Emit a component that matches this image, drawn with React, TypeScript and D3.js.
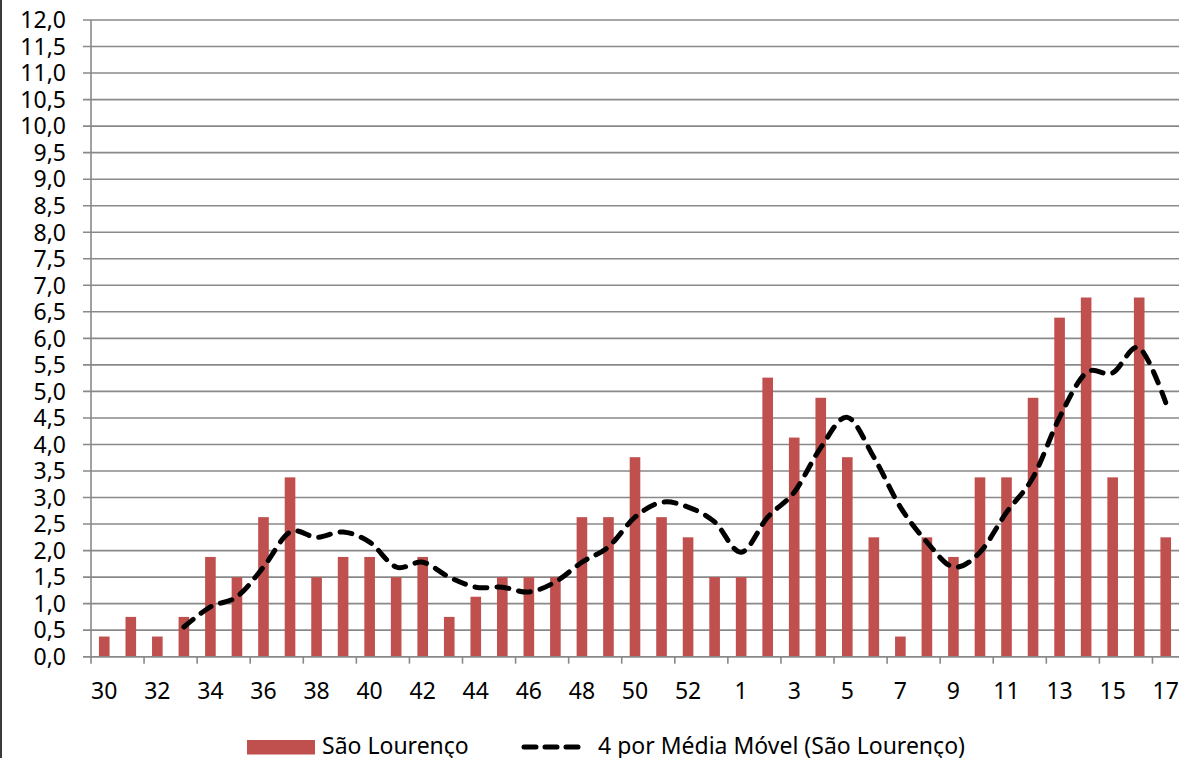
import React from "react";
import * as d3 from "d3";

const categories = [
  "30","31","32","33","34","35","36","37","38","39","40","41","42","43","44","45","46","47","48","49","50","51","52","53",
  "1","2","3","4","5","6","7","8","9","10","11","12","13","14","15","16","17",
];

const barValues = [
  0.38, 0.75, 0.38, 0.75, 1.88, 1.5, 2.63, 3.38, 1.5, 1.88, 1.88, 1.5, 1.88, 0.75, 1.13, 1.5, 1.5, 1.5, 2.63, 2.63, 3.76, 2.63, 2.25, 1.5,
  1.5, 5.26, 4.13, 4.88, 3.76, 2.25, 0.38, 2.25, 1.88, 3.38, 3.38, 4.88, 6.39, 6.77, 3.38, 6.77, 2.25,
];

// 4-period moving average (first three periods empty)
const maValues: (number | null)[] = [
  null, null, null, 0.56, 0.94, 1.13, 1.69, 2.35, 2.25, 2.35, 2.16, 1.69, 1.78, 1.5, 1.31, 1.31, 1.22, 1.41, 1.78, 2.07, 2.63, 2.91, 2.82, 2.54,
  1.97, 2.63, 3.1, 3.94, 4.51, 3.76, 2.82, 2.16, 1.69, 1.97, 2.72, 3.38, 4.51, 5.35, 5.35, 5.82, 4.79,
];

const yTicks = d3.range(0, 12.0001, 0.5);
const tickLabelCats = categories.filter((_, i) => i % 2 === 0);

const seriesBarName = "São Lourenço";
const seriesLineName = "4 por Média Móvel (São Lourenço)";

const W = 1181;
const H = 758;
const plotLeft = 91;
const plotRight = 1179;
const plotTop = 20;
const plotBottom = 656.7;
const FONT = "'Noto Sans', 'DejaVu Sans', sans-serif";
const BAR_COLOR = "#C0504D";
const GRID = "#898989";

export default function App() {
  const x = d3.scaleBand<string>().domain(categories).range([plotLeft, plotRight]).padding(0);
  const y = d3.scaleLinear().domain([0, 12]).range([plotBottom, plotTop]);
  const bw = x.bandwidth();
  const barW = bw / 2.5;

  const linePts = categories
    .map((c, i) => ({ c, v: maValues[i] }))
    .filter((d) => d.v !== null) as { c: string; v: number }[];
  const line = d3
    .line<{ c: string; v: number }>()
    .x((d) => (x(d.c) as number) + bw / 2)
    .y((d) => y(d.v))
    .curve(d3.curveCardinal.tension(0));

  const boundaryTicks = d3.range(0, categories.length, 2).map((i) => plotLeft + i * bw);

  return (
    <svg
      width={W}
      height={H}
      style={{ position: "absolute", left: 0, top: 0, background: "#fff" }}
      fontFamily={FONT}
    >
      <rect x={0} y={0} width={W} height={H} fill="#fff" />
      {/* chart frame left edge */}
      <line x1={1} x2={1} y1={0} y2={H} stroke="#3a3a3a" strokeWidth={2} />

      {/* gridlines */}
      {yTicks.map((t) => (
        <line
          key={t}
          x1={plotLeft - 8}
          x2={plotRight}
          y1={y(t)}
          y2={y(t)}
          stroke={GRID}
          strokeWidth={1.6}
        />
      ))}
      {/* y axis */}
      <line x1={plotLeft} x2={plotLeft} y1={plotTop} y2={plotBottom} stroke={GRID} strokeWidth={1.6} />
      {yTicks.map((t) => (
        <text
          key={"yl" + t}
          x={66}
          y={y(t)}
          dy="0.36em"
          textAnchor="end"
          fontSize={23}
          fill="#000"
        >
          {t.toFixed(1).replace(".", ",")}
        </text>
      ))}

      {/* bars */}
      {categories.map((c, i) => (
        <rect
          key={"b" + c + i}
          x={(x(c) as number) + (bw - barW) / 2}
          y={y(barValues[i])}
          width={barW}
          height={plotBottom - y(barValues[i])}
          fill={BAR_COLOR}
        />
      ))}

      {/* x axis */}
      <line x1={plotLeft - 8} x2={plotRight} y1={plotBottom} y2={plotBottom} stroke={GRID} strokeWidth={1.6} />
      {boundaryTicks.map((tx, i) => (
        <line key={"xt" + i} x1={tx} x2={tx} y1={plotBottom} y2={plotBottom + 7} stroke={GRID} strokeWidth={1.6} />
      ))}
      {tickLabelCats.map((c) => (
        <text
          key={"xl" + c}
          x={(x(c) as number) + bw / 2}
          y={699}
          textAnchor="middle"
          fontSize={23}
          fill="#000"
        >
          {c}
        </text>
      ))}

      {/* moving average line */}
      <path
        d={line(linePts) || ""}
        fill="none"
        stroke="#000"
        strokeWidth={5}
        strokeDasharray="12 10"
        strokeLinecap="round"
        strokeLinejoin="round"
      />

      {/* legend */}
      <rect x={247} y={740} width={68} height={14.5} fill={BAR_COLOR} />
      <text x={322} y={754} fontSize={23} fill="#000">
        {seriesBarName}
      </text>
      <line
        x1={524}
        x2={580}
        y1={747}
        y2={747}
        stroke="#000"
        strokeWidth={5}
        strokeDasharray="12 9"
        strokeLinecap="round"
      />
      <text x={598} y={754} fontSize={23} fill="#000">
        {seriesLineName}
      </text>
    </svg>
  );
}
